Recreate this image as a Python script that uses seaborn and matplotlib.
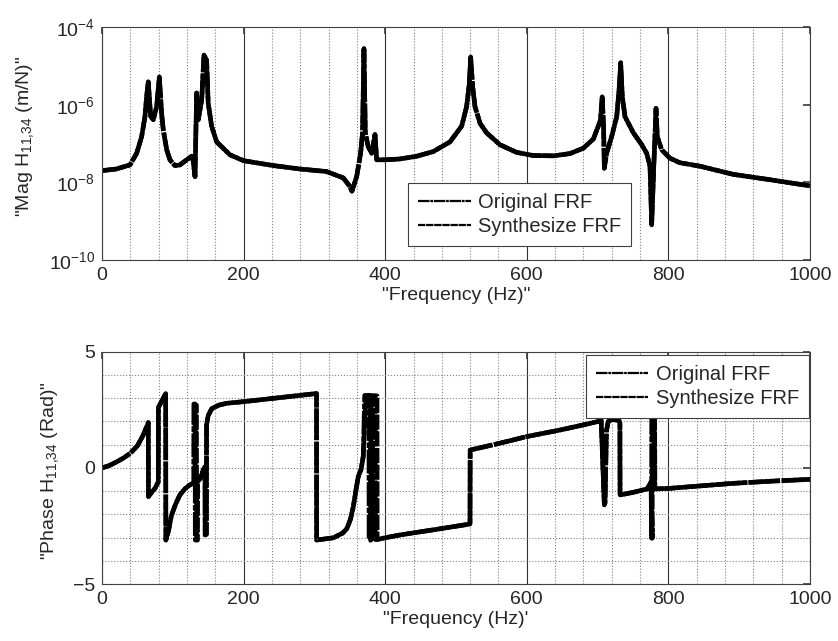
import matplotlib
matplotlib.use("Agg")
import matplotlib.pyplot as plt
import seaborn as sns
from matplotlib.ticker import MultipleLocator, FixedLocator, NullLocator

# Frequency points (Hz) for the magnitude curve
freq_mag = [0, 20, 39.5, 49, 56, 60.7, 63, 65.4, 68.8, 72.5, 77.2, 81, 84.2, 86.6,
            91.4, 96, 103, 110, 119.6, 126.7, 128.5, 131.4, 133.7, 136, 140.8, 144,
            147.8, 150, 154.8, 162, 180.8, 200, 242, 280, 317, 340.8, 350, 353,
            359.7, 365.3, 368, 370, 371.9, 376, 380.9, 385.6, 388, 400, 421, 444.5,
            468, 491.5, 508, 515, 518.8, 520.7, 523.5, 526.8, 534, 543, 562, 585.7,
            609, 637.5, 661, 680, 694, 701, 704, 706.5, 708.5, 709.5, 712.7, 719.8,
            727, 730.7, 732.6, 734.9, 738.7, 750.4, 762.3, 769.3, 774, 776.4, 779.7,
            782.5, 784.3, 790.5, 802, 816, 844.6, 891.7, 939, 1000]

# Magnitude (m/N), original FRF
mag_orig = [2.0e-8, 2.2e-8, 2.8e-8, 5.6e-8, 1.5e-7, 4.9e-7, 1.6e-6, 3.9e-6, 4.9e-7,
            4.1e-7, 8.9e-7, 5.2e-6, 6.0e-7, 2.2e-7, 6.9e-8, 3.8e-8, 2.7e-8, 2.8e-8,
            3.8e-8, 4.7e-8, 3.8e-8, 1.4e-8, 2.0e-6, 4.1e-7, 1.3e-6, 1.9e-5, 1.4e-5,
            1.1e-6, 2.8e-7, 1.1e-7, 5.1e-8, 3.6e-8, 2.7e-8, 2.2e-8, 1.9e-8, 1.3e-8,
            7.9e-9, 5.9e-9, 1.4e-8, 5.6e-8, 1.9e-7, 2.8e-5, 1.9e-7, 8.3e-8, 5.6e-8,
            1.7e-7, 3.8e-8, 3.8e-8, 4.0e-8, 4.7e-8, 6.2e-8, 1.1e-7, 2.8e-7, 8.9e-7,
            3.5e-6, 1.7e-5, 3.0e-6, 8.9e-7, 3.3e-7, 1.9e-7, 9.3e-8, 5.9e-8, 4.9e-8,
            4.8e-8, 5.5e-8, 7.6e-8, 1.3e-7, 2.8e-7, 4.0e-7, 1.6e-6, 2.5e-7, 2.3e-8,
            5.6e-8, 1.5e-7, 4.9e-7, 3.0e-6, 1.2e-5, 1.6e-6, 4.9e-7, 1.9e-7, 9.3e-8,
            5.6e-8, 2.6e-8, 8.0e-10, 3.8e-8, 8.1e-7, 1.5e-7, 6.9e-8, 4.2e-8, 3.2e-8,
            2.6e-8, 1.6e-8, 1.2e-8, 8.1e-9]

# Magnitude (m/N), synthesized FRF (overlaps the original)
mag_synth = [2.0e-8, 2.2e-8, 2.8e-8, 5.6e-8, 1.5e-7, 4.9e-7, 1.6e-6, 3.8e-6, 4.9e-7,
             4.1e-7, 8.9e-7, 5.0e-6, 6.0e-7, 2.2e-7, 6.9e-8, 3.8e-8, 2.7e-8, 2.8e-8,
             3.8e-8, 4.7e-8, 3.8e-8, 1.4e-8, 2.0e-6, 4.1e-7, 1.3e-6, 1.8e-5, 1.4e-5,
             1.1e-6, 2.8e-7, 1.1e-7, 5.1e-8, 3.6e-8, 2.7e-8, 2.2e-8, 1.9e-8, 1.3e-8,
             7.9e-9, 5.9e-9, 1.4e-8, 5.6e-8, 1.9e-7, 2.6e-5, 1.9e-7, 8.3e-8, 5.6e-8,
             1.7e-7, 3.8e-8, 3.8e-8, 4.0e-8, 4.7e-8, 6.2e-8, 1.1e-7, 2.8e-7, 8.9e-7,
             3.5e-6, 1.6e-5, 3.0e-6, 8.9e-7, 3.3e-7, 1.9e-7, 9.3e-8, 5.9e-8, 4.9e-8,
             4.8e-8, 5.5e-8, 7.6e-8, 1.3e-7, 2.8e-7, 4.0e-7, 1.6e-6, 2.5e-7, 2.3e-8,
             5.6e-8, 1.5e-7, 4.9e-7, 3.0e-6, 1.2e-5, 1.6e-6, 4.9e-7, 1.9e-7, 9.3e-8,
             5.6e-8, 2.6e-8, 9.0e-10, 3.8e-8, 8.0e-7, 1.5e-7, 6.9e-8, 4.2e-8, 3.2e-8,
             2.6e-8, 1.6e-8, 1.2e-8, 8.1e-9]

# Phase (rad), original FRF
freq_ph_orig = [0, 10, 20, 30, 40, 50, 58, 65.4, 65.6, 70, 75, 79.5, 79.7, 84, 90,
                90.2, 94, 98, 104, 110, 117, 124, 129.5, 129.7, 131.5, 131.7, 133.5,
                133.7, 139, 143.5, 145.5, 145.7, 147.5, 147.7, 150, 155, 165, 176,
                200, 250, 303, 303.2, 315, 327, 340, 346, 351, 355, 359, 362, 366,
                369, 371, 377, 377.2, 380, 380.2, 386, 386.2, 400, 421, 470, 519.8,
                520, 560, 600, 650, 700, 705, 709.5, 710.5, 712.5, 715, 720, 730,
                731.5, 731.7, 750, 770, 775.5, 776.2, 776.4, 780, 780.5, 800, 850,
                892, 950, 1000]
phase_orig = [0.0, 0.1, 0.25, 0.42, 0.63, 0.95, 1.4, 1.95, -1.23, -1.05, -0.87, -0.6,
              2.6, 2.85, 3.2, -3.1, -2.7, -2.05, -1.55, -1.16, -0.9, -0.73, -0.64,
              2.75, 2.75, -3.1, -3.1, -0.66, -0.44, -0.05, 0.05, -2.88, -2.85, 1.85,
              2.25, 2.55, 2.7, 2.78, 2.85, 3.02, 3.2, -3.1, -3.05, -3.0, -2.8, -2.6,
              -2.2, -1.66, -0.9, -0.37, -0.05, 0.5, 3.12, 3.12, -3.1, -3.1, 3.1, 3.1,
              -3.08, -3.0, -2.88, -2.65, -2.41, 0.77, 1.05, 1.35, 1.65, 1.99, 2.05,
              -1.59, -1.5, 1.6, 2.0, 2.08, 2.05, 1.95, -1.16, -1.05, -0.9, -0.6,
              -3.02, 3.1, 3.0, -0.9, -0.88, -0.76, -0.66, -0.56, -0.49]

# Phase (rad), synthesized FRF
freq_ph_synth = [0, 10, 20, 30, 40, 50, 58, 65.4, 65.6, 70, 75, 79.5, 79.7, 84, 90,
                 90.2, 94, 98, 104, 110, 117, 124, 131.5, 131.7, 133.5, 133.7, 135,
                 135.2, 139, 143.5, 145.5, 145.7, 147.5, 147.7, 150, 155, 165, 176,
                 200, 250, 303, 303.2, 315, 327, 340, 346, 351, 355, 359, 362, 366,
                 369, 373, 379, 379.2, 382, 382.2, 388.5, 388.7, 400, 421, 470, 519.8,
                 520, 560, 600, 650, 700, 705, 709.5, 710.5, 712.5, 715, 720, 730,
                 731.5, 731.7, 750, 770, 775.5, 777.2, 777.4, 780.5, 781, 800, 850,
                 892, 950, 1000]
phase_synth = [0.0, 0.1, 0.25, 0.42, 0.63, 0.95, 1.4, 1.95, -1.23, -1.05, -0.87, -0.6,
               2.6, 2.85, 3.2, -3.1, -2.7, -2.05, -1.55, -1.16, -0.9, -0.73, -0.62,
               2.7, 2.7, -3.1, -3.1, -0.6, -0.44, -0.05, 0.05, -2.88, -2.85, 1.85,
               2.25, 2.55, 2.7, 2.78, 2.85, 3.02, 3.2, -3.1, -3.05, -3.0, -2.8, -2.6,
               -2.2, -1.66, -0.9, -0.37, -0.05, 0.5, 3.12, 3.12, -3.1, -3.1, 3.1, 3.1,
               -3.08, -3.0, -2.88, -2.65, -2.41, 0.77, 1.05, 1.35, 1.65, 1.99, 2.05,
               -1.59, -1.5, 1.6, 2.0, 2.08, 2.05, 1.95, -1.16, -1.05, -0.9, -0.6,
               -3.02, 3.1, 3.0, -0.9, -0.88, -0.76, -0.66, -0.56, -0.49]

LABELS = ["Original FRF", "Synthesize FRF"]
# short gaps so the two overlapping curves look almost solid
DASHDOT = (0, (5.2, 0.35, 1.2, 0.35))
DASHED = (0, (3.3, 0.35))

sns.set_theme(style="white")
plt.rcParams["font.family"] = ["Liberation Sans", "DejaVu Sans"]
plt.rcParams["mathtext.default"] = "regular"
plt.rcParams["font.size"] = 14

fig = plt.figure(figsize=(8.38, 6.41), dpi=100)
ax1 = fig.add_axes([0.1217, 0.5944, 0.8449, 0.3635])
ax2 = fig.add_axes([0.1217, 0.0885, 0.8449, 0.3629])

line_kw = dict(color="black", lw=3.3, estimator=None, sort=False, errorbar=None)

# Magnitude
sns.lineplot(x=freq_mag, y=mag_orig, ax=ax1, linestyle=DASHDOT, label=LABELS[0], **line_kw)
sns.lineplot(x=freq_mag, y=mag_synth, ax=ax1, linestyle=DASHED, label=LABELS[1], **line_kw)
ax1.set_yscale("log")
ax1.set_ylim(1e-10, 1e-4)
ax1.yaxis.set_major_locator(FixedLocator([1e-10, 1e-8, 1e-6, 1e-4]))
ax1.yaxis.set_minor_locator(NullLocator())
ax1.set_ylabel('"Mag H$_{11{,}34}$ (m/N)"', fontsize=14)
ax1.set_xlabel('"Frequency (Hz)"', fontsize=14, labelpad=2)
ax1.yaxis.set_label_coords(-0.093, 0.53)

# Phase
sns.lineplot(x=freq_ph_orig, y=phase_orig, ax=ax2, linestyle=DASHDOT, label=LABELS[0], **line_kw)
sns.lineplot(x=freq_ph_synth, y=phase_synth, ax=ax2, linestyle=DASHED, label=LABELS[1], **line_kw)
ax2.set_ylim(-5, 5)
ax2.yaxis.set_major_locator(MultipleLocator(5))
ax2.yaxis.set_minor_locator(MultipleLocator(1))
ax2.set_ylabel('"Phase H$_{11{,}34}$ (Rad)"', fontsize=14)
ax2.set_xlabel('"Frequency (Hz)\'', fontsize=14, labelpad=2)
ax2.yaxis.set_label_coords(-0.058, 0.49)
ax2.grid(axis="y", which="both", ls=":", color="#808080", lw=0.8)

for ax in (ax1, ax2):
    ax.set_xlim(0, 1000)
    ax.xaxis.set_major_locator(MultipleLocator(200))
    ax.xaxis.set_minor_locator(MultipleLocator(40))
    ax.grid(axis="x", which="major", ls="-", color="#303030", lw=0.8)
    ax.grid(axis="x", which="minor", ls=":", color="#808080", lw=0.8)
    ax.tick_params(which="major", direction="in", length=5, top=True, right=True,
                   labelsize=14, color="#404040", pad=5)
    ax.tick_params(which="minor", length=0)
    for sp in ax.spines.values():
        sp.set_color("#404040")
        sp.set_linewidth(0.8)
    ax.set_axisbelow(True)

leg_kw = dict(fontsize=14.5, frameon=True, fancybox=False, framealpha=1,
              edgecolor="#404040", handlelength=2.6, handletextpad=0.35,
              borderpad=0.5, labelspacing=0.25, borderaxespad=0)
leg1 = ax1.legend(loc="center", bbox_to_anchor=(0.59, 0.197), **leg_kw)
leg2 = ax2.legend(loc="center", bbox_to_anchor=(0.841, 0.85), **leg_kw)
for leg in (leg1, leg2):
    leg.get_frame().set_linewidth(0.8)
    for ln in leg.get_lines():
        ln.set_linewidth(1.6)

fig.savefig("out.png", dpi=100)
